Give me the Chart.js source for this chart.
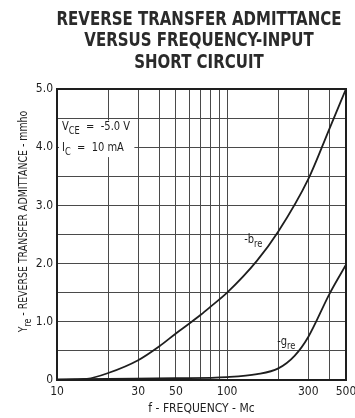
<!DOCTYPE html>
<html>
<head>
<meta charset="utf-8">
<script src="https://cdn.jsdelivr.net/npm/chart.js@4"></script>
<style>
html, body { margin: 0; padding: 0; background: #fff; }
#wrap { width: 355px; height: 418px; }
</style>
</head>
<body>
<div id="wrap"><canvas id="grap1" width="355" height="418"></canvas></div>
<script>
// chart data
var titleLines = ['REVERSE TRANSFER ADMITTANCE', 'VERSUS FREQUENCY-INPUT', 'SHORT CIRCUIT'];
var freqGrid = [10, 20, 30, 40, 50, 60, 70, 80, 90, 100, 200, 300, 400, 500];
var freqLabels = [10, 30, 50, 100, 300, 500];

// -b_re
var bFreq = [10, 15, 20, 30, 40, 50, 60, 70, 80, 100, 150, 200, 300, 400, 500];
var bVals = [0.0, 0.02, 0.12, 0.34, 0.58, 0.80, 0.97, 1.12, 1.26, 1.50, 2.05, 2.55, 3.45, 4.32, 5.0];

// -g_re
var gFreq = [10, 20, 50, 100, 150, 200, 250, 300, 400, 500];
var gVals = [0.01, 0.02, 0.03, 0.05, 0.10, 0.20, 0.42, 0.74, 1.48, 1.98];

var ink = '#1e1e1e';
var gridColor = '#4a4a4a';
var fam = '"Liberation Sans Narrow", "DejaVu Sans Condensed", sans-serif';

function toPoints(xs, ys) {
    return xs.map(function (x, i) { return { x: x, y: ys[i] }; });
}

// draw text made of [text, isSubscript] parts, squeezed horizontally by sx
function drawParts(ctx, x, y, parts, size, align, sx) {
    sx = sx || 1;
    var w = 0;
    parts.forEach(function (p) {
        ctx.font = (p[1] ? size - 2 : size) + 'px ' + fam;
        w += ctx.measureText(p[0]).width;
    });
    ctx.save();
    ctx.translate(x, y);
    ctx.scale(sx, 1);
    var cx = align === 'center' ? -w / 2 : 0;
    ctx.textAlign = 'left';
    ctx.textBaseline = 'alphabetic';
    parts.forEach(function (p) {
        ctx.font = (p[1] ? size - 2 : size) + 'px ' + fam;
        ctx.fillText(p[0], cx, p[1] ? 4 : 0);
        cx += ctx.measureText(p[0]).width;
    });
    ctx.restore();
    return w * sx;
}

var labelsPlugin = {
    id: 'labels',
    afterDatasetsDraw: function (chart) {
        var ctx = chart.ctx;
        var xs = chart.scales.x, ys = chart.scales.y;
        var a = chart.chartArea;
        ctx.save();

        // frame
        ctx.strokeStyle = ink;
        ctx.lineWidth = 2;
        ctx.strokeRect(a.left, a.top, a.right - a.left, a.bottom - a.top);

        // blank box behind the conditions text
        ctx.fillStyle = '#fff';
        var bx0 = xs.getPixelForValue(10) + 2, bx1 = xs.getPixelForValue(28.5);
        var by0 = ys.getPixelForValue(4.46), by1 = ys.getPixelForValue(3.83);
        ctx.fillRect(bx0, by0, bx1 - bx0, by1 - by0);

        ctx.fillStyle = ink;
        drawParts(ctx, xs.getPixelForValue(10.7), ys.getPixelForValue(4.30),
            [['V', false], ['CE', true], ['  =  -5.0 V', false]], 12, 'left', 0.92);
        drawParts(ctx, xs.getPixelForValue(10.7), ys.getPixelForValue(3.93),
            [['I', false], ['C', true], ['  =  10 mA', false]], 12, 'left', 0.92);
        drawParts(ctx, xs.getPixelForValue(126), ys.getPixelForValue(2.35),
            [['-b', false], ['re', true]], 12, 'left', 0.92);
        drawParts(ctx, xs.getPixelForValue(197), ys.getPixelForValue(0.60),
            [['-g', false], ['re', true]], 12, 'left', 0.92);

        // title, squeezed so the first line spans about 285px
        ctx.font = 'bold 19px ' + fam;
        ctx.textAlign = 'center';
        ctx.textBaseline = 'middle';
        ctx.fillStyle = '#2a2a2a';
        var tsx = 285 / ctx.measureText(titleLines[0]).width;
        titleLines.forEach(function (t, i) {
            ctx.save();
            ctx.translate(199, 20 + i * 21.3);
            ctx.scale(tsx, 1);
            ctx.fillText(t, 0, 0);
            ctx.restore();
        });

        // y axis title
        ctx.fillStyle = ink;
        ctx.translate(23, (a.top + a.bottom) / 2 - 13);
        ctx.rotate(-Math.PI / 2);
        drawParts(ctx, 0, 4, [['Y', false], ['re', true], [' - REVERSE TRANSFER ADMITTANCE - mmho', false]], 12, 'center', 0.87);
        ctx.restore();
    }
};

var ctx = document.getElementById('grap1').getContext('2d');
var chart = new Chart(ctx, {
    type: 'line',
    data: {
        datasets: [
            {
                label: '-bre',
                data: toPoints(bFreq, bVals),
                borderColor: ink,
                borderWidth: 1.8,
                pointRadius: 0,
                cubicInterpolationMode: 'monotone',
                fill: false
            },
            {
                label: '-gre',
                data: toPoints(gFreq, gVals),
                borderColor: ink,
                borderWidth: 1.8,
                pointRadius: 0,
                cubicInterpolationMode: 'monotone',
                fill: false
            }
        ]
    },
    options: {
        responsive: false,
        animation: false,
        devicePixelRatio: 1,
        layout: { padding: { top: 89, left: 0, right: 0, bottom: 2 } },
        plugins: {
            legend: { display: false },
            title: { display: false },
            tooltip: { enabled: false }
        },
        scales: {
            x: {
                type: 'logarithmic',
                min: 10,
                max: 500,
                afterBuildTicks: function (scale) {
                    scale.ticks = freqGrid.map(function (v) { return { value: v }; });
                },
                afterFit: function (scale) {
                    scale.height = 36;
                    scale.paddingRight = 9;
                    scale.paddingLeft = 0;
                },
                ticks: {
                    autoSkip: false,
                    maxRotation: 0,
                    padding: 5,
                    color: ink,
                    font: { family: fam, size: 12 },
                    callback: function (v) { return freqLabels.indexOf(v) >= 0 ? String(v) : ''; }
                },
                grid: { color: gridColor, lineWidth: 1, drawTicks: false },
                border: { color: ink, width: 2 },
                title: {
                    display: true,
                    text: 'f - FREQUENCY - Mc',
                    color: ink,
                    font: { family: fam, size: 12 },
                    padding: { top: 2, bottom: 0 }
                }
            },
            y: {
                min: 0,
                max: 5,
                afterFit: function (scale) { scale.width = 57; },
                ticks: {
                    stepSize: 0.5,
                    padding: 4,
                    color: ink,
                    font: { family: fam, size: 12 },
                    callback: function (v) {
                        if (v % 1 !== 0) return '';
                        return v === 0 ? '0' : v.toFixed(1);
                    }
                },
                grid: { color: gridColor, lineWidth: 1, drawTicks: false },
                border: { color: ink, width: 2 }
            }
        }
    },
    plugins: [labelsPlugin]
});
</script>
</body>
</html>
